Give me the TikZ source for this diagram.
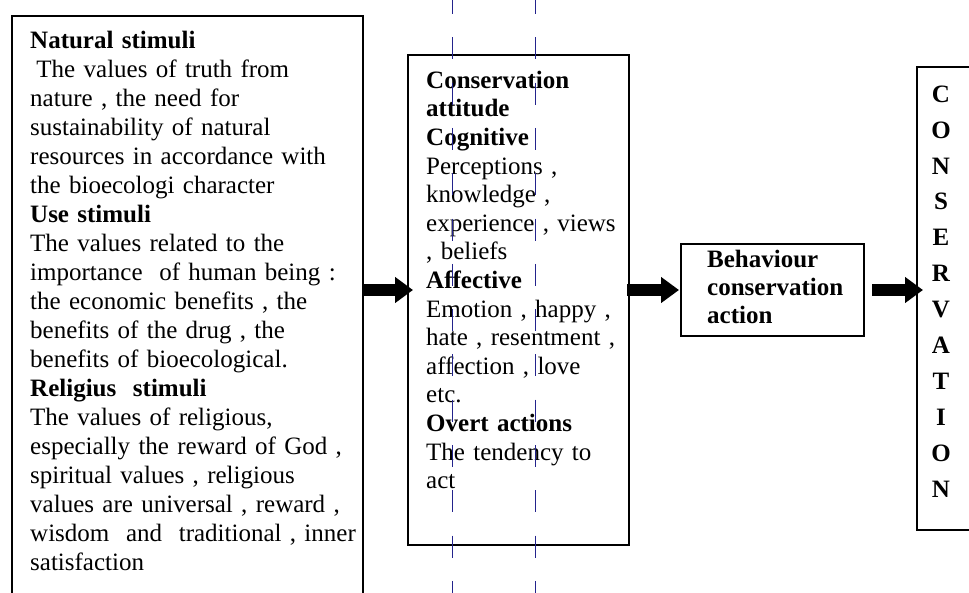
\documentclass[tikz,border=0pt]{standalone}
\usepackage{fontspec}
\setmainfont{Liberation Serif}
\usetikzlibrary{arrows.meta}
\definecolor{dashblue}{RGB}{35,35,140}
\begin{document}
\begin{tikzpicture}[x=1pt,y=-1pt,
  box/.style={draw=black, line width=1.1pt, rectangle, inner sep=0pt, outer sep=0pt, anchor=north west},
  txt/.style={inner sep=0pt, anchor=north west, align=left},
  bigarrow/.style={draw=black, line width=12pt, line cap=butt, -{Triangle[length=18pt,width=25pt]}},
  guide/.style={draw=dashblue, line width=1pt, dash pattern=on 22pt off 23.3pt}]
\useasboundingbox (0,0) rectangle (969,592);
\clip (0,0) rectangle (969,592);
\fill[white] (0,0) rectangle (969,592);
% boxes
\node[box, minimum width=351pt, minimum height=620pt] (left) at (12,16) {};
\node[box, minimum width=221pt, minimum height=490pt] (mid) at (408,55) {};
\node[box, minimum width=183pt, minimum height=92pt] (beh) at (681,244) {};
\node[box, minimum width=90pt, minimum height=463pt] (right) at (917,67) {};
% texts
\node[txt, text width=340pt, font=\fontsize{25}{29}\selectfont] (lefttext) at (30,27.7) {\strut\textbf{Natural stimuli}\\
\hspace*{0.25em}The values of truth from\\
nature , the need for\\
sustainability of natural\\
resources in accordance with\\
the bioecologi character\\
\textbf{Use stimuli}\\
The values related to the\\
importance\ \ of human being :\\
the economic benefits , the\\
benefits of the drug , the\\
benefits of bioecological.\\
\textbf{Religius\ \ stimuli}\\
The values of religious,\\
especially the reward of God ,\\
spiritual values , religious\\
values are universal , reward ,\\
wisdom\ \ and\ \ traditional , inner\\
satisfaction};
\node[txt, text width=200pt, font=\fontsize{25}{28.6}\selectfont] (midtext) at (426,68) {\strut\textbf{Conservation}\\
\textbf{attitude}\\
\textbf{Cognitive}\\
Perceptions ,\\
knowledge ,\\
experience , views\\
, beliefs\\
\textbf{Affective}\\
Emotion , happy ,\\
hate , resentment ,\\
affection , love\\
etc.\\
\textbf{Overt actions}\\
The tendency to\\
act};
\node[txt, text width=160pt, font=\fontsize{25}{28}\selectfont\bfseries] (behtext) at (707,247.4) {\strut Behaviour\\
conservation\\
action};
\node[inner sep=0pt, anchor=north, align=center, text width=40pt, font=\fontsize{25}{35.9}\selectfont\bfseries] (righttext) at (941,76.9) {\strut C\\O\\N\\S\\E\\R\\V\\A\\T\\I\\O\\N};
% arrows
\draw[bigarrow] ([xshift=-1pt]left.east |- beh.west) -- ([xshift=5pt]mid.west |- beh.west);
\draw[bigarrow] ([xshift=-2pt]mid.east |- beh.west) -- ([xshift=-2pt]beh.west);
\draw[bigarrow] ([xshift=8pt]beh.east) -- ([xshift=6pt]right.west |- beh.east);
% guide lines
\coordinate (g1t) at (452,-8);
\coordinate (g1b) at (452,600);
\coordinate (g2t) at (535,-8);
\coordinate (g2b) at (535,600);
\draw[guide] (g1t) -- (g1b);
\draw[guide] (g2t) -- (g2b);
\end{tikzpicture}
\end{document}
